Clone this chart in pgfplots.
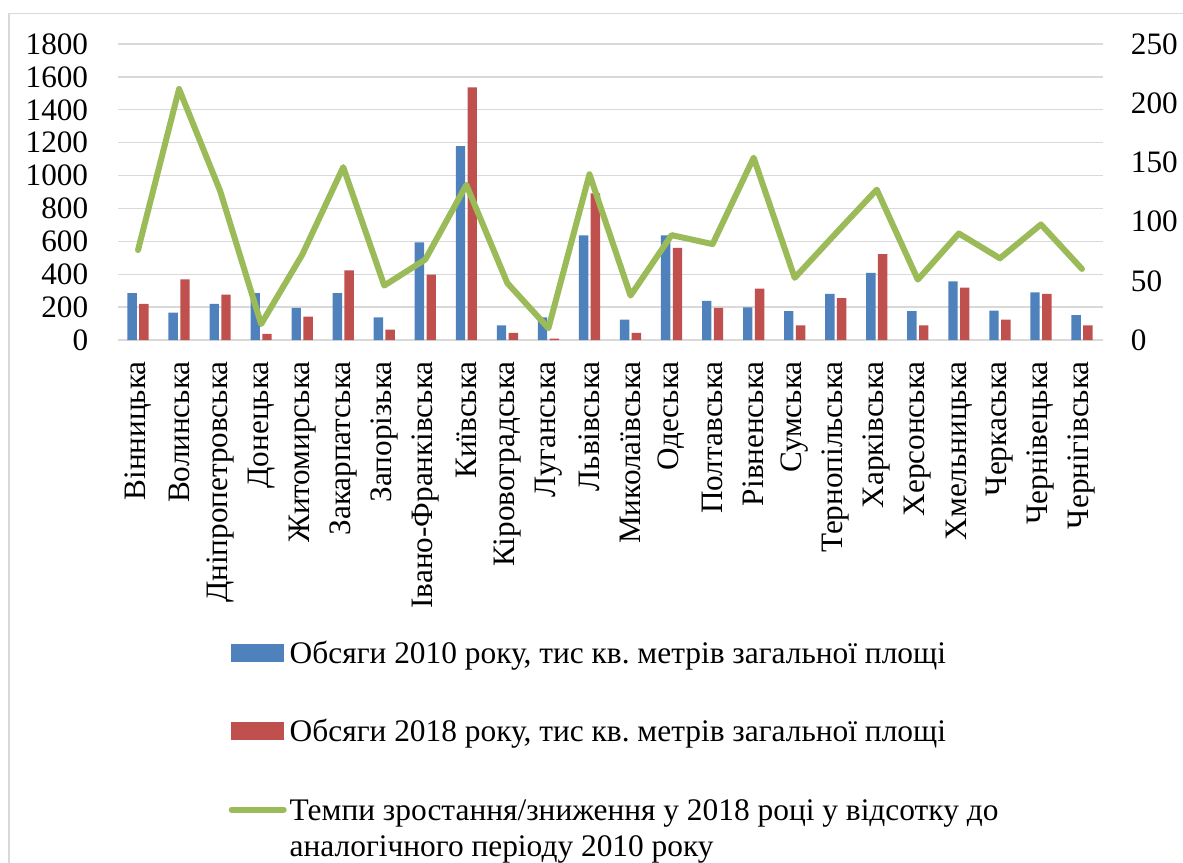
\documentclass[border=0pt]{standalone}
\usepackage{pgfplots}
\pgfplotsset{compat=1.18}
\usepackage{pgfplotstable}
\usepackage{fontspec}
\setmainfont{Liberation Serif}
\frenchspacing

\definecolor{cBlue}{HTML}{4F81BD}
\definecolor{cRed}{HTML}{C0504D}
\definecolor{cGreen}{HTML}{9BBB59}
\definecolor{cGrid}{HTML}{D9D9D9}

% idx: region number, v2010/v2018 in thousand sq. m, rate in %
\pgfplotstableread{
idx v2010 v2018 rate
0  285  219  76
1  167  368  212
2  219  276  126
3  285  37   13.5
4  195  142  72
5  285  423  146
6  138  63   46
7  593  398  68
8  1179 1536 131
9  89   43   48
10 138  8    10
11 636  892  140
12 124  43   37.5
13 636  561  88.6
14 238  195  81
15 199  313  154
16 175  89   52.5
17 280  254  90
18 408  522  127
19 175  89   51
20 356  319  90
21 179  124  69
22 289  280  97.6
23 152  89   60
}\data

\begin{document}
\begin{tikzpicture}
\path[use as bounding box] (0pt,0pt) rectangle (591.5pt,-431pt);
\draw[cGrid, line width=0.75pt] (4.5pt,-6.7pt) rectangle (600pt,-440pt);

\begin{axis}[
  at={(58.75pt,-170pt)}, anchor=south west,
  scale only axis, width=492.5pt, height=148pt,
  xmin=-0.5, xmax=23.5, ymin=0, ymax=1800,
  ytick distance=200,
  xtick={0,...,23},
  xticklabels={Вінницька, Волинська, Дніпропетровська, Донецька, Житомирська,
    Закарпатська, Запорізька, Івано-Франківська, Київська, Кіровоградська,
    Луганська, Львівська, Миколаївська, Одеська, Полтавська, Рівненська,
    Сумська, Тернопільська, Харківська, Херсонська, Хмельницька, Черкаська,
    Чернівецька, Чернігівська},
  axis x line*=bottom, axis y line*=left,
  axis line style={draw=none},
  major tick length=0pt,
  ymajorgrids, grid style={cGrid, line width=0.7pt},
  ybar, bar width=4.7pt,
  tick label style={font=\fontsize{15.6}{18}\selectfont},
  /pgf/number format/assume math mode=true,
  /pgf/number format/1000 sep={},
  yticklabel style={inner sep=0pt, xshift=-14.5pt},
  xticklabel style={yshift=-10.5pt, rotate=90, anchor=east, inner sep=0pt},
]
\addplot[fill=cBlue, draw=none, bar shift=-2.95pt] table[x=idx, y=v2010]{\data};
\addplot[fill=cRed, draw=none, bar shift=2.95pt] table[x=idx, y=v2018]{\data};
\end{axis}

\begin{axis}[
  at={(58.75pt,-170pt)}, anchor=south west,
  scale only axis, width=492.5pt, height=148pt,
  xmin=-0.5, xmax=23.5, ymin=0, ymax=250,
  ytick distance=50,
  axis y line*=right, axis x line=none,
  axis line style={draw=none},
  major tick length=0pt,
  tick label style={font=\fontsize{15.6}{18}\selectfont},
  /pgf/number format/assume math mode=true,
  yticklabel style={inner sep=0pt, xshift=14pt},
  legend style={at={(0.1125,-1.0196)}, anchor=north west, draw=none, fill=none,
    inner sep=0pt, row sep=28.6pt, column sep=1.5pt,
    font=\fontsize{15.7}{18}\selectfont,
    cells={anchor=west},
    nodes={inner sep=0pt, text height=10.6pt, text depth=0pt}},
]
\addlegendimage{legend image code/.code={\fill[cBlue] (0pt,-4.2pt) rectangle (26pt,4.2pt);}}
\addlegendentry{Обсяги 2010 року, тис кв. метрів загальної площі}
\addlegendimage{legend image code/.code={\fill[cRed] (0pt,-4.2pt) rectangle (26pt,4.2pt);}}
\addlegendentry{Обсяги 2018 року, тис кв. метрів загальної площі}
\addplot[cGreen, line width=3pt, line join=round, line cap=round,
  legend image code/.code={\draw[cGreen, line width=3pt, line cap=round] (0pt,0pt) -- (26pt,0pt);}]
  table[x=idx, y=rate]{\data};
\addlegendentry{\parbox[t]{420pt}{\raggedright\baselineskip=18pt Темпи зростання/зниження у 2018 році у відсотку до\\аналогічного періоду 2010 року}}
\end{axis}
\end{tikzpicture}
\end{document}
